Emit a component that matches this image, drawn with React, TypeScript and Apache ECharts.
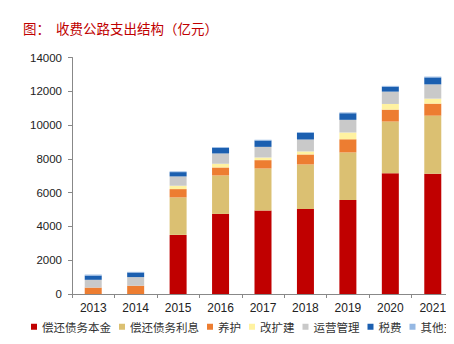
import React, { useEffect, useRef } from "react";
import * as echarts from "echarts";

const years = ["2013", "2014", "2015", "2016", "2017", "2018", "2019", "2020", "2021"];
const principal = [0, 0, 3500, 4740, 4940, 5030, 5565, 7155, 7120];
const interest = [0, 0, 2220, 2280, 2490, 2640, 2815, 3055, 3440];
const maintenance = [380, 490, 490, 470, 495, 590, 780, 705, 710];
const rebuild = [0, 0, 200, 220, 155, 180, 400, 335, 295];
const operation = [460, 510, 550, 610, 630, 705, 750, 730, 845];
const taxes = [250, 270, 255, 335, 375, 395, 390, 290, 410];
const others = [60, 40, 45, 45, 45, 50, 50, 50, 50];

const seriesNames = ["偿还债务本金", "偿还债务利息", "养护", "改扩建", "运营管理", "税费", "其他支出"];
const seriesData = [principal, interest, maintenance, rebuild, operation, taxes, others];
const seriesColors = ["#C00000", "#DBC072", "#ED7D31", "#FFF2A1", "#C9C9C9", "#1B5FB0", "#95B8E3"];

const yTicks = [0, 2000, 4000, 6000, 8000, 10000, 12000, 14000];

export default function App() {
  const ref = useRef<HTMLDivElement>(null);
  useEffect(() => {
    if (!ref.current) return;
    const chart = echarts.init(ref.current, null, { renderer: "svg" });
    chart.setOption({
      animation: false,
      backgroundColor: "#ffffff",
      title: {
        text: "图：  收费公路支出结构（亿元）",
        left: 23,
        top: 21,
        padding: 0,
        textStyle: {
          color: "#C00000",
          fontSize: 13.5,
          fontWeight: "normal",
          fontFamily: "Noto Sans CJK SC",
        },
      },
      legend: {
        data: seriesNames,
        left: 31,
        top: 321,
        width: 900,
        padding: 0,
        itemWidth: 6,
        itemHeight: 6,
        itemGap: 8,
        icon: "rect",
        textStyle: {
          fontSize: 11.5,
          color: "#333333",
          fontFamily: "Noto Sans CJK SC",
        },
      },
      grid: {
        left: 72,
        top: 57.5,
        width: 387,
        height: 236.5,
        containLabel: false,
      },
      xAxis: {
        type: "category",
        data: years,
        axisLine: { show: true, lineStyle: { color: "#888888", width: 1 } },
        axisTick: { show: true, length: 4, lineStyle: { color: "#888888" } },
        axisLabel: {
          margin: 8,
          fontSize: 12,
          color: "#222222",
          fontFamily: "Liberation Sans",
        },
      },
      yAxis: {
        type: "value",
        min: yTicks[0],
        max: yTicks[yTicks.length - 1],
        interval: 2000,
        axisLine: { show: true, lineStyle: { color: "#888888", width: 1 } },
        axisTick: { show: true, length: 4, lineStyle: { color: "#888888" } },
        splitLine: { show: false },
        axisLabel: {
          margin: 10,
          fontSize: 11.5,
          color: "#222222",
          fontFamily: "Liberation Sans",
          formatter: (v: number) => String(v),
        },
      },
      series: seriesNames.map((name, i) => ({
        name,
        type: "bar",
        stack: "total",
        barWidth: 17,
        data: seriesData[i],
        itemStyle: { color: seriesColors[i] },
      })),
    });
    return () => chart.dispose();
  }, []);
  return <div ref={ref} style={{ width: 454, height: 344, margin: -8 }} />;
}
